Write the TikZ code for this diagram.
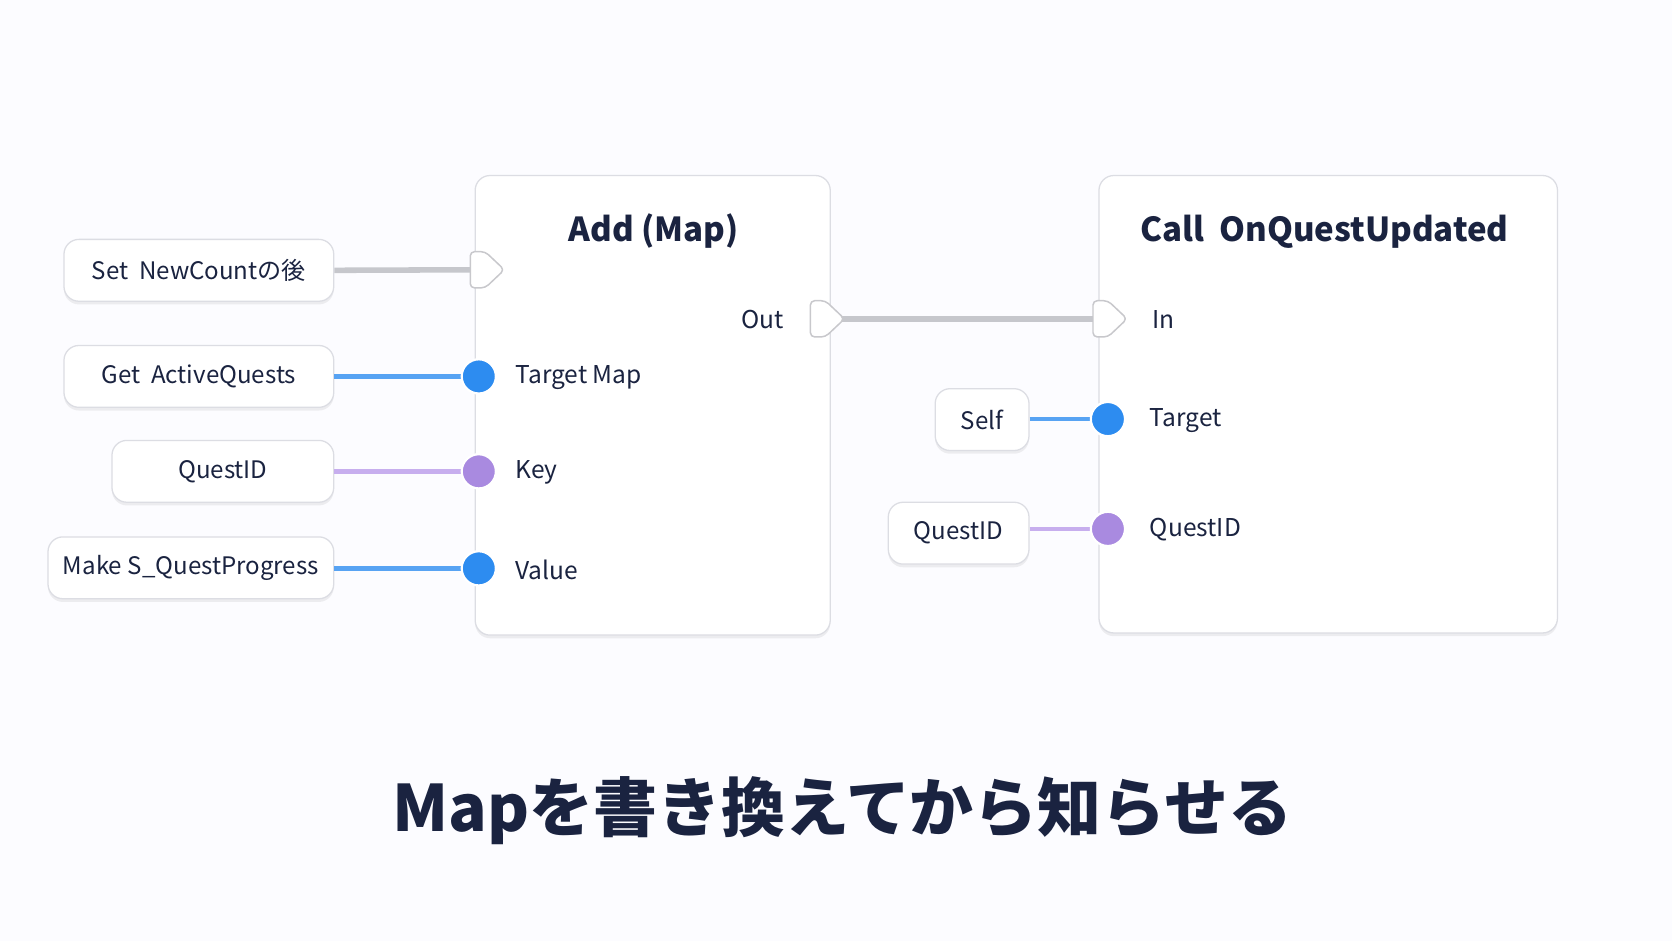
\documentclass[tikz,border=0pt]{standalone}
\usepackage{fontspec}
\setmainfont{Noto Sans CJK JP}
\usetikzlibrary{shadows}
\definecolor{ink}{HTML}{1A2340}
\definecolor{pblue}{HTML}{2D8CF0}
\definecolor{ppur}{HTML}{A98AE0}
\definecolor{lpur}{HTML}{C7AEEE}
\definecolor{edge}{HTML}{DCDDE3}
\begin{document}
\begin{tikzpicture}[x=0.5pt,y=-0.5pt,
 card/.style={draw=edge,fill=white,rounded corners=7pt,line width=0.6pt,drop shadow={shadow xshift=0pt,shadow yshift=-1.5pt,opacity=0.12}},
 src/.style={card,minimum height=29pt,text=ink,font=\fontsize{11.3}{11.3}\selectfont,inner sep=0pt},
 lab/.style={text=ink,font=\fontsize{11.5}{11.5}\selectfont,inner sep=0pt},
 ttl/.style={text=ink,font=\fontsize{15.5}{15.5}\selectfont\bfseries,inner sep=0pt},
 bpin/.style={circle,fill=pblue,draw=white,line width=1pt,minimum size=16pt,inner sep=0pt},
 ppin/.style={circle,fill=ppur,draw=white,line width=1pt,minimum size=16pt,inner sep=0pt},
 epin/.style={draw=edge!80!black!70,fill=white,line width=0.7pt,line join=round},
 bw/.style={pblue!80,line width=2.2pt},
 pw/.style={lpur,line width=2.2pt},
 ew/.style={draw=edge!90!black,line width=2.6pt}]
\useasboundingbox (0,0) rectangle (1568,882);
\fill[white!97!blue!40] (0,0) rectangle (1568,882);
% main nodes
\node[card,minimum width=166.5pt,minimum height=215.5pt,anchor=north west] (add) at (445,164) {};
\node[card,minimum width=215pt,minimum height=214.5pt,anchor=north west] (call) at (1030,164) {};
\node[ttl] (addt) at (613,217) {Add (Map)};
\node[ttl] (callt) at (1242,217) {Call\ \ OnQuestUpdated};
% sources
\node[src,minimum width=126.5pt] (s1) at (186.5,253.5) {Set\ \ NewCountの後};
\node[src,minimum width=126.5pt] (s2) at (186.5,353) {Get\ \ ActiveQuests};
\node[src,minimum width=104pt] (s3) at (209,442) {QuestID};
\node[src,minimum width=134pt] (s4) at (179,532.5) {Make S\_QuestProgress};
\node[src,minimum width=44pt] (s5) at (921,393.5) {Self};
\node[src,minimum width=66pt] (s6) at (899,500) {QuestID};
% pins
\coordinate (e1) at (441,253);
\coordinate (eo) at (760,299);
\coordinate (ei) at (1025,299);
\node[bpin] (p2) at (449,353) {};
\node[ppin] (p3) at (449,442) {};
\node[bpin] (p4) at (449,533) {};
\node[bpin] (p5) at (1039,393) {};
\node[ppin] (p6) at (1039,496) {};
% wires
\draw[ew] (s1.east) -- (e1);
\draw[ew] (eo) ++(30,0) -- (ei);
\draw[bw] (s2.east |- p2) -- (p2.west);
\draw[pw] (s3.east |- p3) -- (p3.west);
\draw[bw] (s4.east |- p4) -- (p4.west);
\draw[bw] (s5.east |- p5) -- (p5.west);
\draw[pw] (s6.east |- p6) -- (p6.west);
\foreach \c in {e1,eo,ei}{
 \draw[epin,rounded corners=2pt] (\c) ++(0,-17) -- ++(14,0) -- ++(18,17) -- ++(-18,17) -- ++(-14,0) -- cycle;}
\node[bpin] at (p2) {};\node[ppin] at (p3) {};\node[bpin] at (p4) {};\node[bpin] at (p5) {};\node[ppin] at (p6) {};
% labels
\node[lab,anchor=west] (l2) at (483,354) {Target Map};
\node[lab,anchor=west] (l3) at (483,443) {Key};
\node[lab,anchor=west] (l4) at (483,534) {Value};
\node[lab,anchor=east] (lo) at (735,300) {Out};
\node[lab,anchor=west] (li) at (1080,300) {In};
\node[lab,anchor=west] (l5) at (1078,394) {Target};
\node[lab,anchor=west] (l6) at (1078,497) {QuestID};
% caption
\node[text=ink,font=\fontsize{30}{30}\selectfont\bfseries,inner sep=0pt] (cap) at (790,760) {Mapを書き換えてから知らせる};
\end{tikzpicture}
\end{document}
